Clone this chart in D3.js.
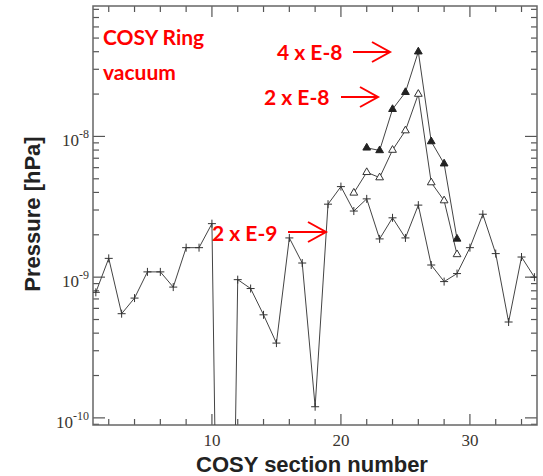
<!DOCTYPE html>
<html>
<head>
<meta charset="utf-8">
<script src="https://cdn.jsdelivr.net/npm/d3@7"></script>
<style>
  body { margin: 0; background: #fff; }
  svg { display: block; }
  .tick-label { font-family: "Liberation Serif", "DejaVu Serif", serif; fill: #3a3530; }
  .axis-title { font-family: "Liberation Sans", Arial, sans-serif; font-weight: bold; fill: #222; }
  .note { font-family: Lato, "Open Sans", sans-serif; font-weight: bold; fill: #f00; }
</style>
</head>
<body>
<div id="chart"></div>
<script>
// section numbers along the ring
const sections = [1, 2, 3, 4, 5, 6, 7, 8, 9, 10, 11, 12, 13, 14, 15, 16, 17, 18,
  19, 20, 21, 22, 23, 24, 25, 26, 27, 28, 29, 30, 31, 32, 33, 34, 35];
// base pressure (crosses); section 11 is far below the axis
const pressureBase = [7.8e-10, 1.36e-9, 5.5e-10, 7.1e-10, 1.09e-9, 1.09e-9, 8.5e-10, 1.62e-9, 1.62e-9, 2.4e-9,
  1e-15, 9.6e-10, 8.3e-10, 5.4e-10, 3.4e-10, 1.9e-9, 1.26e-9, 1.2e-10, 3.3e-9, 4.4e-9,
  2.95e-9, 3.6e-9, 1.87e-9, 2.64e-9, 1.9e-9, 3.25e-9, 1.22e-9, 9.3e-10, 1.06e-9, 1.62e-9,
  2.8e-9, 1.47e-9, 4.8e-10, 1.39e-9, 1.0e-9];
// open triangles
const sectionsMid = [21, 22, 23, 24, 25, 26, 27, 28, 29];
const pressureMid = [3.97e-9, 5.56e-9, 5.1e-9, 8.0e-9, 1.1e-8, 2.0e-8, 4.7e-9, 3.5e-9, 1.45e-9];
// filled triangles
const sectionsHigh = [22, 23, 24, 25, 26, 27, 28, 29];
const pressureHigh = [8.3e-9, 7.95e-9, 1.56e-8, 2.06e-8, 4.0e-8, 9.2e-9, 6.4e-9, 1.87e-9];

const xMajor = [10, 20, 30];
const xMinor = [2, 4, 6, 8, 12, 14, 16, 18, 22, 24, 26, 28, 32, 34];
const yMajor = [1e-10, 1e-9, 1e-8];
const yExp = ["-10", "-9", "-8"];

const width = 543, height = 476;
const pLeft = 93, pRight = 537, pTop = 6, pBottom = 425;

const svg = d3.select("#chart").append("svg")
    .attr("width", width)
    .attr("height", height);

const x = d3.scaleLinear().domain([0.78, 35.2]).range([pLeft, pRight]);
const y = d3.scaleLog().domain([8.9e-11, 8.45e-8]).range([pBottom, pTop]);

// minor log ticks 2..9 in each decade
const yMinor = [];
[1e-11, 1e-10, 1e-9, 1e-8].forEach(d => {
    for (let k = 2; k <= 9; k++) {
        const v = d * k;
        if (v > y.domain()[0] && v < y.domain()[1]) yMinor.push(v);
    }
});

svg.append("defs").append("clipPath").attr("id", "plot-clip")
    .append("rect")
    .attr("x", pLeft).attr("y", pTop)
    .attr("width", pRight - pLeft).attr("height", pBottom - pTop);

// ticks
const tickG = svg.append("g").attr("stroke", "#555").attr("stroke-width", 1.2);
function xTicks(vals, len) {
    vals.forEach(v => {
        tickG.append("line").attr("x1", x(v)).attr("x2", x(v)).attr("y1", pBottom).attr("y2", pBottom - len);
        tickG.append("line").attr("x1", x(v)).attr("x2", x(v)).attr("y1", pTop).attr("y2", pTop + len);
    });
}
function yTicks(vals, len) {
    vals.forEach(v => {
        tickG.append("line").attr("y1", y(v)).attr("y2", y(v)).attr("x1", pLeft).attr("x2", pLeft + len);
        tickG.append("line").attr("y1", y(v)).attr("y2", y(v)).attr("x1", pRight).attr("x2", pRight - len);
    });
}
xTicks(xMajor, 11);
xTicks(xMinor, 6);
yTicks(yMajor, 12);
yTicks(yMinor, 6);

// frame
svg.append("rect")
    .attr("x", pLeft).attr("y", pTop)
    .attr("width", pRight - pLeft).attr("height", pBottom - pTop)
    .attr("fill", "none")
    .attr("stroke", "#666")
    .attr("stroke-width", 1.5);

// tick labels
svg.selectAll(".xlab")
    .data(xMajor)
    .enter().append("text")
    .attr("class", "tick-label")
    .attr("x", d => x(d))
    .attr("y", 446)
    .attr("text-anchor", "middle")
    .style("font-size", "17px")
    .text(d => d);

const ylab = svg.selectAll(".ylab")
    .data(yMajor)
    .enter().append("text")
    .attr("class", "tick-label")
    .attr("x", 89)
    .attr("y", d => y(d) + 10)
    .attr("text-anchor", "end")
    .style("font-size", "17px");
ylab.append("tspan").text("10");
ylab.append("tspan")
    .attr("dy", -8)
    .style("font-size", "12px")
    .text((d, i) => yExp[i]);

// axis titles
svg.append("text")
    .attr("class", "axis-title")
    .attr("x", 312)
    .attr("y", 472)
    .attr("text-anchor", "middle")
    .style("font-size", "22px")
    .text("COSY section number");

svg.append("text")
    .attr("class", "axis-title")
    .attr("transform", "translate(40,214) rotate(-90)")
    .attr("text-anchor", "middle")
    .style("font-size", "22px")
    .text("Pressure [hPa]");

// lines
const line = d3.line().x(d => x(d[0])).y(d => y(d[1]));
const plot = svg.append("g").attr("clip-path", "url(#plot-clip)");

const base = d3.zip(sections, pressureBase);
const mid = d3.zip(sectionsMid, pressureMid);
const high = d3.zip(sectionsHigh, pressureHigh);

[base, mid, high].forEach(s => {
    plot.append("path")
        .attr("d", line(s))
        .attr("fill", "none")
        .attr("stroke", "#444")
        .attr("stroke-width", 1);
});

// markers
plot.selectAll(".plus")
    .data(base.filter(d => d[1] > y.domain()[0]))
    .enter().append("path")
    .attr("transform", d => `translate(${x(d[0])},${y(d[1])})`)
    .attr("d", "M-4,0H4M0,-4V4")
    .attr("stroke", "#333")
    .attr("stroke-width", 1);

const tri = d3.symbol().type(d3.symbolTriangle).size(26);
plot.selectAll(".open")
    .data(mid)
    .enter().append("path")
    .attr("transform", d => `translate(${x(d[0])},${y(d[1])})`)
    .attr("d", tri)
    .attr("fill", "#fff")
    .attr("stroke", "#333")
    .attr("stroke-width", 1);

plot.selectAll(".filled")
    .data(high)
    .enter().append("path")
    .attr("transform", d => `translate(${x(d[0])},${y(d[1])})`)
    .attr("d", tri)
    .attr("fill", "#222")
    .attr("stroke", "#222")
    .attr("stroke-width", 1);

// red annotations
function note(txt, tx, ty) {
    svg.append("text")
        .attr("class", "note")
        .attr("x", tx).attr("y", ty)
        .style("font-size", "21px")
        .text(txt);
}
function arrow(x1, x2, ay) {
    const g = svg.append("g").attr("stroke", "#f00").attr("stroke-width", 2).attr("fill", "none");
    g.append("line").attr("x1", x1).attr("x2", x2).attr("y1", ay).attr("y2", ay);
    g.append("path").attr("d", `M${x2 - 18},${ay - 10}L${x2},${ay}L${x2 - 18},${ay + 10}`);
}
note("COSY Ring", 103, 45);
note("vacuum", 103, 80);
note("4 x E-8", 277, 60);
arrow(353, 390, 52);
note("2 x E-8", 264, 105);
arrow(341, 378, 97);
note("2 x E-9", 212, 241);
arrow(288, 326, 232);
</script>
</body>
</html>
